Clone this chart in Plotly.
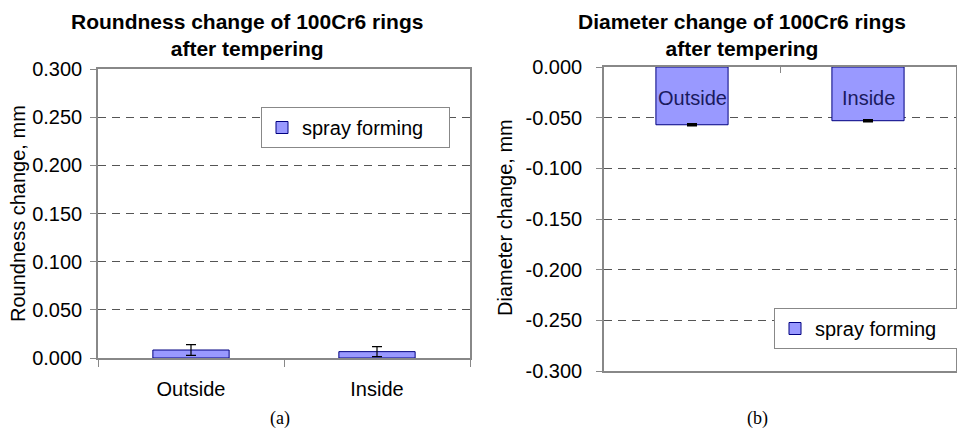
import plotly.graph_objects as go

categories = ["Outside", "Inside"]
roundness = [0.0083, 0.0066]
roundness_err = [0.0055, 0.0052]
diameter = [-0.057, -0.053]
diameter_err = [0.0008, 0.0008]
series_name = "spray forming"
yt_left = [0, 0.05, 0.1, 0.15, 0.2, 0.25, 0.3]
yt_right = [0, -0.05, -0.1, -0.15, -0.2, -0.25, -0.3]

FONT = "Liberation Sans, Arial, sans-serif"
BAR = "#9999FF"
EDGE = "#000080"
GRID = "#555555"
AXIS = "#888888"
W, H = 957, 434

fig = go.Figure()
fig.add_trace(go.Bar(
    x=categories, y=roundness, name=series_name, xaxis="x", yaxis="y",
    marker=dict(color=BAR, line=dict(color=EDGE, width=1)), width=0.41,
    error_y=dict(type="data", array=roundness_err, color="black", thickness=1.2, width=5),
    legend="legend",
))
fig.add_trace(go.Bar(
    x=categories, y=diameter, name=series_name, xaxis="x2", yaxis="y2",
    marker=dict(color=BAR, line=dict(color=EDGE, width=1)), width=0.41,
    error_y=dict(type="data", array=diameter_err, color="black", thickness=2, width=5),
    legend="legend2",
))

common_y = dict(
    showgrid=True, gridcolor=GRID, gridwidth=1, griddash="8px,6px",
    zeroline=False, showline=True, linecolor=AXIS, linewidth=1.5, mirror=True,
    ticks="outside", ticklen=6, tickcolor=AXIS, automargin=False,
    tickfont=dict(family=FONT, size=20, color="black"),
)

fig.update_layout(
    width=W, height=H,
    margin=dict(l=0, r=0, t=0, b=0, pad=0, autoexpand=False),
    paper_bgcolor="white", plot_bgcolor="white",
    font=dict(family=FONT, size=20, color="black"),
    xaxis=dict(domain=[98/W, 470/W], anchor="y", showline=True, linecolor=AXIS,
               linewidth=1.5, mirror=True, ticks="outside", ticklen=7, tickcolor=AXIS,
               tickson="boundaries", ticklabelstandoff=12, automargin=False,
               tickfont=dict(family=FONT, size=20, color="black"), showgrid=False),
    yaxis=dict(domain=[1-358/H, 1-69/H], anchor="x", range=[0, 0.3],
               tickvals=yt_left, ticktext=[f"{v:.3f}" for v in yt_left],
               ticklabelstandoff=4, **common_y),
    xaxis2=dict(domain=[604/W, 956/W], anchor="y2", side="top", showline=True,
                linecolor=AXIS, linewidth=1.5, mirror=True, ticks="inside", ticklen=6,
                tickcolor=AXIS, tickson="boundaries", showticklabels=False,
                showgrid=False, automargin=False),
    yaxis2=dict(domain=[1-371/H, 1-67/H], anchor="x2", range=[-0.3, 0],
                tickvals=yt_right, ticktext=[f"{v:.3f}" for v in yt_right],
                ticklabelstandoff=10, **common_y),
    legend=dict(x=261/W, y=1-107/H, xanchor="left", yanchor="top",
                orientation="h", entrywidth=142,
                bgcolor="white", bordercolor=AXIS, borderwidth=1,
                font=dict(family=FONT, size=20, color="black")),
    legend2=dict(x=774/W, y=1-308/H, xanchor="left", yanchor="top",
                 orientation="h", entrywidth=150,
                 bgcolor="white", bordercolor=AXIS, borderwidth=1,
                 font=dict(family=FONT, size=20, color="black")),
    showlegend=True,
)

annotations = [
    dict(text="<b>Roundness change of 100Cr6 rings<br>after tempering</b>",
         x=247/W, y=1-8/H, xref="paper", yref="paper", xanchor="center", yanchor="top",
         showarrow=False, font=dict(family=FONT, size=21, color="black")),
    dict(text="<b>Diameter change of 100Cr6 rings<br>after tempering</b>",
         x=742/W, y=1-8/H, xref="paper", yref="paper", xanchor="center", yanchor="top",
         showarrow=False, font=dict(family=FONT, size=21, color="black")),
    dict(text="Roundness change, mm", textangle=-90, x=18/W, y=1-214/H,
         xref="paper", yref="paper", xanchor="center", yanchor="middle", showarrow=False,
         font=dict(family=FONT, size=20, color="black")),
    dict(text="Diameter change, mm", textangle=-90, x=505/W, y=1-218/H,
         xref="paper", yref="paper", xanchor="center", yanchor="middle", showarrow=False,
         font=dict(family=FONT, size=20, color="black")),
    dict(text="(a)", x=280/W, y=1-418/H, xref="paper", yref="paper",
         xanchor="center", yanchor="middle", showarrow=False,
         font=dict(family="Liberation Serif, Times New Roman, serif", size=18, color="black")),
    dict(text="(b)", x=757/W, y=1-418/H, xref="paper", yref="paper",
         xanchor="center", yanchor="middle", showarrow=False,
         font=dict(family="Liberation Serif, Times New Roman, serif", size=18, color="black")),
]
for c in categories:
    annotations.append(dict(text=c, x=c, y=-0.031, xref="x2", yref="y2",
                            xanchor="center", yanchor="middle", showarrow=False,
                            font=dict(family=FONT, size=20, color="#1a1a5e")))
fig.update_layout(annotations=annotations)

fig.write_html("out.html", config={"displayModeBar": False},
               post_script="document.body.style.margin='0';document.body.style.overflow='hidden';")
